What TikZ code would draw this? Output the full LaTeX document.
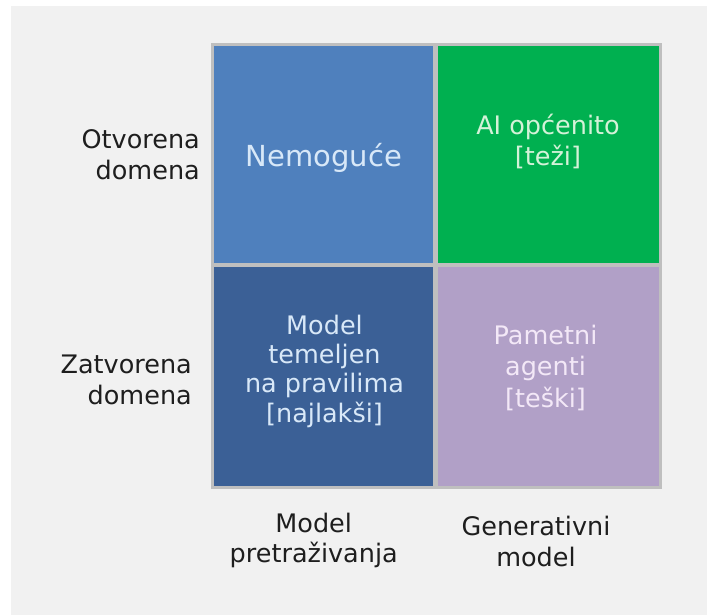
\documentclass[tikz,border=0pt]{standalone}
\usepackage{fontspec}
\setmainfont{DejaVu Sans}
\definecolor{bgray}{HTML}{F1F1F1}
\definecolor{frame}{HTML}{BFBFBF}
\definecolor{cTL}{HTML}{4F80BD}
\definecolor{cBL}{HTML}{3B6096}
\definecolor{cTR}{HTML}{00B050}
\definecolor{cBR}{HTML}{B1A0C7}
\definecolor{tBlue}{HTML}{D8E8F8}
\definecolor{tGreen}{HTML}{D4F2D8}
\definecolor{tPurple}{HTML}{F3E8F7}
\definecolor{labc}{HTML}{1E1E1E}
\begin{document}
\begin{tikzpicture}[x=1pt,y=-1pt,
  cell/.style={draw=none,inner sep=0pt,outer sep=0pt},
  lab/.style={inner sep=0pt,text=labc,font=\fontsize{25.5}{31}\selectfont},
  celltext/.style={inner sep=0pt,align=center,font=\fontsize{25.5}{31}\selectfont}]
\useasboundingbox (0,0) rectangle (707,614);
\fill[white] (0,0) rectangle (707,614);
\fill[bgray] (11,6) rectangle (720,625);
% frame
\node[cell,fill=frame,minimum width=451pt,minimum height=446pt] (frm) at (436.5,266) {};
% cells
\node[cell,fill=cTL,minimum width=219pt,minimum height=217pt] (tl) at (323.5,154.5) {};
\node[cell,fill=cTR,minimum width=221pt,minimum height=217pt] (tr) at (548.5,154.5) {};
\node[cell,fill=cBL,minimum width=219pt,minimum height=219pt] (bl) at (323.5,376.5) {};
\node[cell,fill=cBR,minimum width=221pt,minimum height=219pt] (br) at (548.5,376.5) {};
% cell texts
\node[celltext,text=tBlue,font=\fontsize{29}{35}\selectfont,anchor=base] (tlt) at (324,166) {Nemoguće};
\node[celltext,text=tGreen] (trt) at (548,143.3) {\strut AI općenito\\\strut [teži]};
\node[celltext,text=tBlue,font=\fontsize{25.5}{29}\selectfont] (blt) at (324.5,372.7) {\strut Model\\\strut temeljen\\\strut na pravilima\\\strut [najlakši]};
\node[celltext,text=tPurple,font=\fontsize{25.5}{31.5}\selectfont] (brt) at (545.5,369.2) {\strut Pametni\\\strut agenti\\\strut [teški]};
% row labels
\node[lab,align=right,anchor=east] (otv) at (200,157.3) {\strut Otvorena\\\strut domena};
\node[lab,align=right,anchor=east] (zat) at (192,382.3) {\strut Zatvorena\\\strut domena};
% column labels
\node[lab,align=center,font=\fontsize{25.5}{30}\selectfont] (mp) at (313.7,541) {\strut Model\\\strut pretraživanja};
\node[lab,align=center] (gm) at (536,544.3) {\strut Generativni\\\strut model};
\end{tikzpicture}
\end{document}
